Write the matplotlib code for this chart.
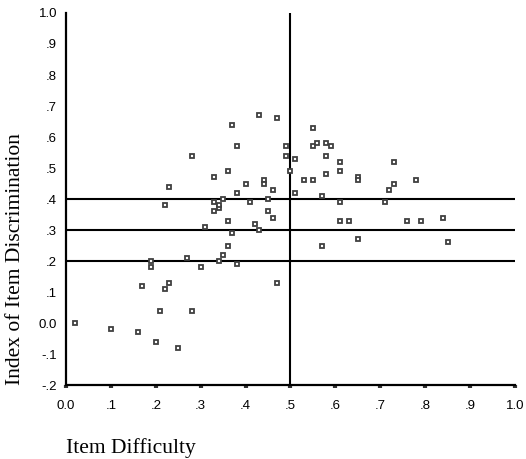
import matplotlib
matplotlib.use("Agg")
import matplotlib.pyplot as plt

# Item difficulty (x) and index of item discrimination (y)
difficulty = [0.02, 0.10, 0.16, 0.20, 0.25, 0.21, 0.28, 0.17, 0.22, 0.23,
              0.19, 0.19, 0.27, 0.30, 0.31, 0.34, 0.35, 0.36, 0.37, 0.36,
              0.38, 0.33, 0.33, 0.34, 0.34, 0.35, 0.22, 0.23, 0.28, 0.33,
              0.36, 0.37, 0.38, 0.38, 0.40, 0.41, 0.42, 0.43, 0.43, 0.44,
              0.44, 0.45, 0.45, 0.46, 0.46, 0.47, 0.47, 0.49, 0.49, 0.50,
              0.51, 0.51, 0.53, 0.55, 0.55, 0.56, 0.55, 0.57, 0.57, 0.58,
              0.59, 0.58, 0.58, 0.61, 0.61, 0.61, 0.61, 0.63, 0.65, 0.65,
              0.65, 0.71, 0.72, 0.73, 0.73, 0.76, 0.78, 0.79, 0.84, 0.85]
discrimination = [0.00, -0.02, -0.03, -0.06, -0.08, 0.04, 0.04, 0.12, 0.11, 0.13,
                  0.18, 0.20, 0.21, 0.18, 0.31, 0.20, 0.22, 0.25, 0.29, 0.33,
                  0.19, 0.36, 0.39, 0.37, 0.38, 0.40, 0.38, 0.44, 0.54, 0.47,
                  0.49, 0.64, 0.57, 0.42, 0.45, 0.39, 0.32, 0.30, 0.67, 0.46,
                  0.45, 0.40, 0.36, 0.34, 0.43, 0.66, 0.13, 0.57, 0.54, 0.49,
                  0.53, 0.42, 0.46, 0.63, 0.57, 0.58, 0.46, 0.41, 0.25, 0.58,
                  0.57, 0.54, 0.48, 0.52, 0.49, 0.39, 0.33, 0.33, 0.47, 0.46,
                  0.27, 0.39, 0.43, 0.45, 0.52, 0.33, 0.46, 0.33, 0.34, 0.26]

x_ticks = [0.0, 0.1, 0.2, 0.3, 0.4, 0.5, 0.6, 0.7, 0.8, 0.9, 1.0]
x_tick_labels = ["0.0", ".1", ".2", ".3", ".4", ".5", ".6", ".7", ".8", ".9", "1.0"]
y_ticks = [-0.2, -0.1, 0.0, 0.1, 0.2, 0.3, 0.4, 0.5, 0.6, 0.7, 0.8, 0.9, 1.0]
y_tick_labels = ["-.2", "-.1", "0.0", ".1", ".2", ".3", ".4", ".5", ".6", ".7", ".8", ".9", "1.0"]
h_refs = [0.4, 0.3, 0.2]
v_ref = 0.5

fig = plt.figure(figsize=(5.26, 4.59), dpi=100)
ax = fig.add_axes([0.1255, 0.161, 0.8535, 0.8107])

ax.set_xlim(0, 1.0)
ax.set_ylim(-0.2, 1.0)

for h in h_refs:
    ax.axhline(h, color="black", lw=1.5, zorder=1)
ax.axvline(v_ref, color="black", lw=1.5, zorder=1)

ax.plot(difficulty, discrimination, linestyle="none", marker="s",
        markersize=3.1, markerfacecolor="white", markeredgecolor="#404040",
        markeredgewidth=1.3, zorder=3)

for s in ["top", "right"]:
    ax.spines[s].set_visible(False)
for s in ["left", "bottom"]:
    ax.spines[s].set_linewidth(1.6)
    ax.spines[s].set_color("black")

ax.set_xticks(x_ticks)
ax.set_xticklabels(x_tick_labels, fontfamily="Liberation Sans", fontsize=9.5)
ax.set_yticks(y_ticks)
ax.set_yticklabels(y_tick_labels, fontfamily="Liberation Sans", fontsize=9.5)
ax.tick_params(axis="y", length=0, pad=6.5)
ax.tick_params(axis="x", length=2.5, width=3, color="#333333", pad=8)

ax.set_xlabel("Item Difficulty", fontfamily="Liberation Serif", fontsize=15.5,
              loc="left", labelpad=19)
ax.set_ylabel("Index of Item Discrimination", fontfamily="Liberation Serif",
              fontsize=15.5, loc="bottom", labelpad=10)

fig.savefig("out.png", dpi=100)
